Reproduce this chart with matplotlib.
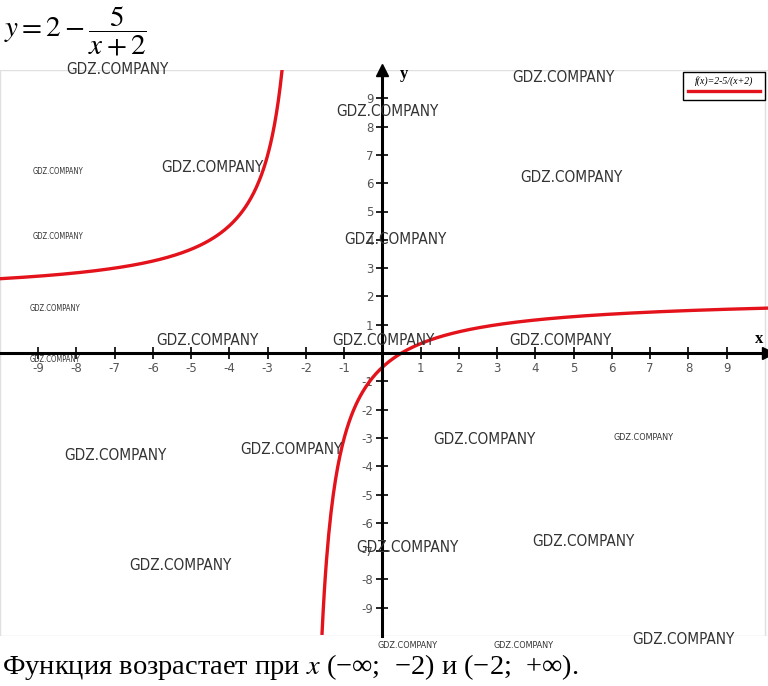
import numpy as np
import matplotlib
matplotlib.use('Agg')
import matplotlib.pyplot as plt

# y = a - b/(x + c), the function shown in the title
a, b, c = 2, 5, 2
x_ticks = [-9, -8, -7, -6, -5, -4, -3, -2, -1, 1, 2, 3, 4, 5, 6, 7, 8, 9]
y_ticks = [-9, -8, -7, -6, -5, -4, -3, -2, -1, 1, 2, 3, 4, 5, 6, 7, 8, 9]
x_left = np.linspace(-10, -2.6, 300)
x_right = np.linspace(-1.58, 10.1, 400)

# watermark positions in figure pixels (x, y from top, size)
marks = [(117, 70, 11), (387, 112, 11), (563, 77, 11), (212, 168, 11), (571, 177, 11),
         (58, 172, 5.5), (58, 236, 5.5), (395, 240, 11), (55, 308, 5.5), (207, 340, 11),
         (383, 340, 11), (560, 340, 11), (55, 360, 5.5), (115, 456, 11), (291, 449, 11),
         (484, 440, 11), (644, 438, 6.5), (407, 548, 11), (583, 541, 11), (180, 565, 11),
         (408, 645, 6.5), (524, 646, 6.5), (683, 640, 11)]

plt.rcParams['mathtext.fontset'] = 'stix'
W, H = 768, 686
fig = plt.figure(figsize=(W / 100, H / 100), dpi=100, facecolor='white')
ax = fig.add_axes([0, 1 - 636 / H, 1, 566 / H])
ax.set_xlim(-9.97, 10.08)
ax.set_ylim(-10.0, 10.0)

ax.set_xticks(range(-10, 11), minor=True)
ax.set_yticks(range(-10, 11), minor=True)
ax.grid(True, which='minor', color='#e0e0e0', linewidth=1.0)
ax.set_xticks(x_ticks)
ax.set_yticks(y_ticks)
ax.set_xticklabels([str(v) for v in x_ticks])
ax.set_yticklabels([str(v) for v in y_ticks])

for s in ['top', 'right']:
    ax.spines[s].set_visible(False)
ax.spines['left'].set_position(('data', 0))
ax.spines['bottom'].set_position(('data', 0))
ax.spines['left'].set_linewidth(2.2)
ax.spines['bottom'].set_linewidth(2.2)
ax.tick_params(which='major', direction='inout', length=9, width=1.2, labelsize=8.5,
               labelcolor='#555555', pad=2)
ax.tick_params(which='minor', length=0)

ax.plot(0, 1.0, '^', color='black', markersize=8, transform=ax.get_xaxis_transform(), clip_on=False)
ax.plot(1.0, 0, '>', color='black', markersize=8, transform=ax.get_yaxis_transform(), clip_on=False)
ax.text(0.45, 9.7, 'y', fontsize=12, fontweight='bold', family='Liberation Serif')
ax.text(9.75, 0.35, 'x', fontsize=12, fontweight='bold', family='Liberation Serif')

ax.plot(x_left, a - b / (x_left + c), color='#e3121b', linewidth=2.4)
ax.plot(x_right, a - b / (x_right + c), color='#e3121b', linewidth=2.4)

# legend box
fig.patches.append(plt.Rectangle((683 / W, 1 - 100 / H), 82 / W, 28 / H, transform=fig.transFigure,
                                 facecolor='white', edgecolor='black', linewidth=1.0, zorder=5))
fig.text(724 / W, 1 - 81 / H, 'f(x)=2-5/(x+2)', ha='center', va='center', fontsize=7,
         family='Liberation Serif', style='italic', zorder=6)
fig.lines.append(plt.Line2D([688 / W, 760 / W], [1 - 91 / H, 1 - 91 / H], transform=fig.transFigure,
                            color='#e3121b', linewidth=2.4, zorder=6))

for mx, my, ms in marks:
    fig.text(mx / W, 1 - my / H, 'GDZ.COMPANY', ha='center', va='center', fontsize=ms,
             family=['Liberation Sans Narrow', 'DejaVu Sans'],
             fontstretch='condensed', color='#333333', zorder=7)

fig.text(4 / W, 1 - 31 / H, r'$y = 2 - \dfrac{5}{x + 2}$', fontsize=21, va='center', ha='left')
fig.text(2 / W, 1 - 667 / H, 'Функция возрастает при $x$ (−∞;  −2) и (−2;  +∞).', fontsize=20.5,
         va='center', ha='left', family='Liberation Serif')

fig.savefig('out.png', dpi=100, facecolor='white')
